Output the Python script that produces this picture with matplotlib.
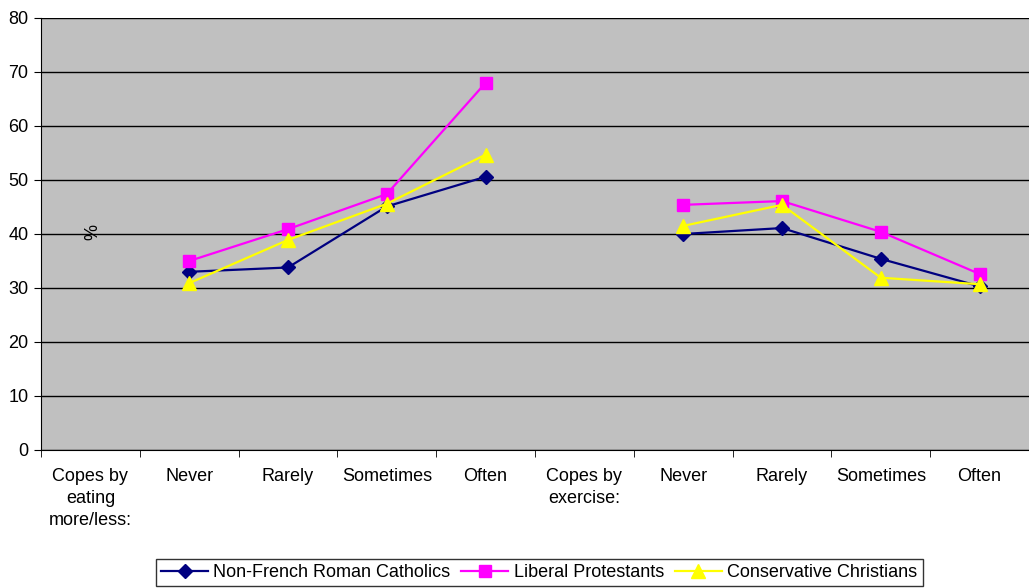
import matplotlib
matplotlib.use('Agg')
import matplotlib.pyplot as plt
import numpy as np

plt.rcParams['font.family'] = ['Liberation Sans', 'DejaVu Sans']

categories = ['Copes by\neating\nmore/less:', 'Never', 'Rarely', 'Sometimes', 'Often',
              'Copes by\nexercise:', 'Never', 'Rarely', 'Sometimes', 'Often']
catholics = [np.nan, 33.0, 33.8, 45.1, 50.6, np.nan, 40.0, 41.1, 35.4, 30.3]
liberal = [np.nan, 35.0, 40.9, 47.4, 68.0, np.nan, 45.4, 46.1, 40.4, 32.6]
conservative = [np.nan, 30.9, 38.9, 45.6, 54.7, np.nan, 41.5, 45.4, 31.9, 30.7]

fig = plt.figure(figsize=(10.29, 5.88), dpi=100)
ax = fig.add_axes([41/1029, 1-450/588, 1-41/1029, 432/588])
ax.set_facecolor('#C0C0C0')

x = np.arange(len(categories))
ax.plot(x, catholics, color='#000080', lw=1.6, marker='D', ms=7, label='Non-French Roman Catholics')
ax.plot(x, liberal, color='#FF00FF', lw=1.6, marker='s', ms=9, label='Liberal Protestants')
ax.plot(x, conservative, color='#FFFF00', lw=1.6, marker='^', ms=10, label='Conservative Christians')

ax.set_xlim(-0.5, 9.5)
ax.set_ylim(0, 80)
ax.set_yticks(range(0, 81, 10))
ax.yaxis.grid(True, color='black', lw=1)
ax.set_axisbelow(True)

ax.set_xticks(x)
ax.set_xticklabels(categories, fontsize=13, linespacing=1.4)
ax.set_xticks(np.arange(-0.5, 10, 1), minor=True)
ax.tick_params(axis='x', which='major', length=0, pad=13)
ax.tick_params(axis='x', which='minor', length=5, color='black')
ax.tick_params(axis='y', length=5, labelsize=13, pad=4)

for s in ['top', 'right']:
    ax.spines[s].set_visible(False)
ax.spines['left'].set_color('black')
ax.spines['bottom'].set_color('black')

ax.text(0.053, 0.505, '%', transform=ax.transAxes, rotation=90,
        fontsize=13, ha='center', va='center')

leg = fig.legend(loc='upper center', bbox_to_anchor=(0.524, 0.05), ncol=3,
                 fontsize=13, frameon=True, fancybox=False, edgecolor='black',
                 handlelength=2.6, handletextpad=0.3, columnspacing=0.6,
                 borderpad=0.3, borderaxespad=0)
leg.get_frame().set_linewidth(1)

fig.savefig('out.png', dpi=100)
